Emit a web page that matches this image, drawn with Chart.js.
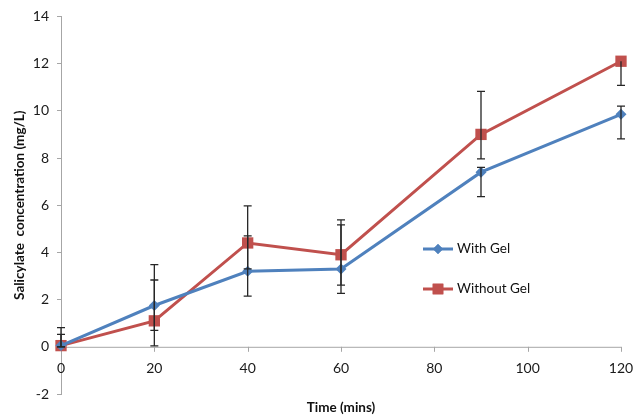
<!DOCTYPE html>
<html>
<head>
<meta charset="utf-8">
<script src="https://cdn.jsdelivr.net/npm/chart.js@4"></script>
<style>
  html, body { margin: 0; padding: 0; background: #fff; }
  #wrap { width: 643px; height: 418px; }
</style>
</head>
<body>
<div id="wrap"><canvas id="c" width="643" height="418"></canvas></div>
<script>
const times = [0, 20, 40, 60, 90, 120];
const withGel = [0.05, 1.75, 3.2, 3.3, 7.4, 9.85];
const withGelHigh = [0.53, 2.83, 4.70, 5.17, 7.6, 10.2];
const withGelLow = [0.0, 0.70, 2.15, 2.26, 6.36, 8.81];
const withoutGel = [0.05, 1.1, 4.4, 3.9, 9.0, 12.1];
const withoutGelHigh = [0.81, 3.48, 5.97, 5.38, 10.82, 12.1];
const withoutGelLow = [0.0, 0.04, 3.3, 2.61, 7.96, 11.08];
const seriesNames = ['With Gel', 'Without Gel'];
const xTitle = 'Time (mins)';
const yTitle = 'Salicylate  concentration (mg/L)';

const BLUE = '#4F81BD';
const RED = '#C0504D';
const AXIS = '#A6A6A6';
const FONT = 'Lato, "Open Sans", sans-serif';

const errorBars = {
  id: 'errorBars',
  afterDatasetsDraw(chart) {
    const ctx = chart.ctx;
    const xs = chart.scales.x, ys = chart.scales.y;
    const sets = [[withGel, withGelHigh, withGelLow], [withoutGel, withoutGelHigh, withoutGelLow]];
    ctx.save();
    ctx.strokeStyle = '#262626';
    ctx.lineWidth = 1.3;
    sets.forEach(([val, hi, lo]) => {
      times.forEach((t, i) => {
        const px = xs.getPixelForValue(t);
        const pHi = ys.getPixelForValue(hi[i]);
        const pLo = ys.getPixelForValue(lo[i]);
        ctx.beginPath();
        ctx.moveTo(px, pHi); ctx.lineTo(px, pLo);
        if (hi[i] > val[i]) { ctx.moveTo(px - 4, pHi); ctx.lineTo(px + 4, pHi); }
        if (lo[i] < val[i]) { ctx.moveTo(px - 4, pLo); ctx.lineTo(px + 4, pLo); }
        ctx.stroke();
      });
    });
    ctx.restore();
  }
};

const zeroAxis = {
  id: 'zeroAxis',
  beforeDatasetsDraw(chart) {
    const ctx = chart.ctx;
    const xs = chart.scales.x, ys = chart.scales.y;
    const y0 = ys.getPixelForValue(0);
    ctx.save();
    ctx.strokeStyle = AXIS;
    ctx.lineWidth = 1;
    ctx.beginPath();
    ctx.moveTo(chart.chartArea.left, y0 + 0.5);
    ctx.lineTo(chart.chartArea.right, y0 + 0.5);
    xs.ticks.forEach(tk => {
      const px = Math.round(xs.getPixelForValue(tk.value)) + 0.5;
      ctx.moveTo(px, y0);
      ctx.lineTo(px, y0 + 5);
    });
    ctx.stroke();
    ctx.fillStyle = '#1a1a1a';
    ctx.font = '14px ' + FONT;
    ctx.textAlign = 'center';
    ctx.textBaseline = 'middle';
    xs.ticks.forEach(tk => {
      ctx.fillText(String(tk.value), xs.getPixelForValue(tk.value), y0 + 22);
    });
    ctx.restore();
  }
};

const legendBox = {
  id: 'legendBox',
  afterDraw(chart) {
    const ctx = chart.ctx;
    const items = [
      {name: seriesNames[0], color: BLUE, style: 'rectRot', r: 5, y: 249},
      {name: seriesNames[1], color: RED, style: 'rect', r: 7.5, y: 289}
    ];
    ctx.save();
    items.forEach(it => {
      ctx.strokeStyle = it.color;
      ctx.lineWidth = 3;
      ctx.beginPath();
      ctx.moveTo(423, it.y); ctx.lineTo(453, it.y);
      ctx.stroke();
      ctx.fillStyle = it.color;
      Chart.helpers.drawPoint(ctx, {pointStyle: it.style, radius: it.r, borderWidth: 0}, 438, it.y);
      ctx.fill();
      ctx.fillStyle = '#111';
      ctx.font = '13.5px ' + FONT;
      ctx.textAlign = 'left';
      ctx.textBaseline = 'middle';
      ctx.fillText(it.name, 457, it.y);
    });
    ctx.restore();
  }
};

new Chart(document.getElementById('c'), {
  type: 'line',
  data: {
    datasets: [
      {
        label: seriesNames[0],
        data: times.map((t, i) => ({x: t, y: withGel[i]})),
        borderColor: BLUE, backgroundColor: BLUE,
        borderWidth: 3, pointStyle: 'rectRot', pointRadius: 5.5,
        pointBorderWidth: 0, tension: 0, clip: false
      },
      {
        label: seriesNames[1],
        data: times.map((t, i) => ({x: t, y: withoutGel[i]})),
        borderColor: RED, backgroundColor: RED,
        borderWidth: 3, pointStyle: 'rect', pointRadius: 8,
        pointBorderWidth: 0, tension: 0, clip: false
      }
    ]
  },
  options: {
    responsive: false,
    animation: false,
    devicePixelRatio: 1,
    layout: { padding: { left: 0, right: 22, top: 14, bottom: 0 } },
    plugins: { legend: { display: false }, tooltip: { enabled: false } },
    scales: {
      x: {
        type: 'linear', min: 0, max: 120,
        ticks: { stepSize: 20, display: false },
        grid: { display: false },
        border: { display: false },
        title: { display: true, text: xTitle, color: '#111',
                 font: { family: FONT, size: 13.5, weight: 'bold' }, padding: { top: 0, bottom: 2 } },
        afterFit: s => { s.height = 24; }
      },
      y: {
        type: 'linear', min: -2, max: 14,
        ticks: { stepSize: 2, color: '#1a1a1a', padding: 8, font: { family: FONT, size: 14 } },
        grid: { drawOnChartArea: false, drawTicks: true, tickLength: 4, color: AXIS },
        border: { display: true, color: AXIS, width: 1 },
        title: { display: true, text: yTitle, color: '#111',
                 font: { family: FONT, size: 13.5, weight: 'bold' }, padding: { top: 12, bottom: 0 } },
        afterFit: s => { s.width = 61; }
      }
    }
  },
  plugins: [zeroAxis, errorBars, legendBox]
});
</script>
</body>
</html>
